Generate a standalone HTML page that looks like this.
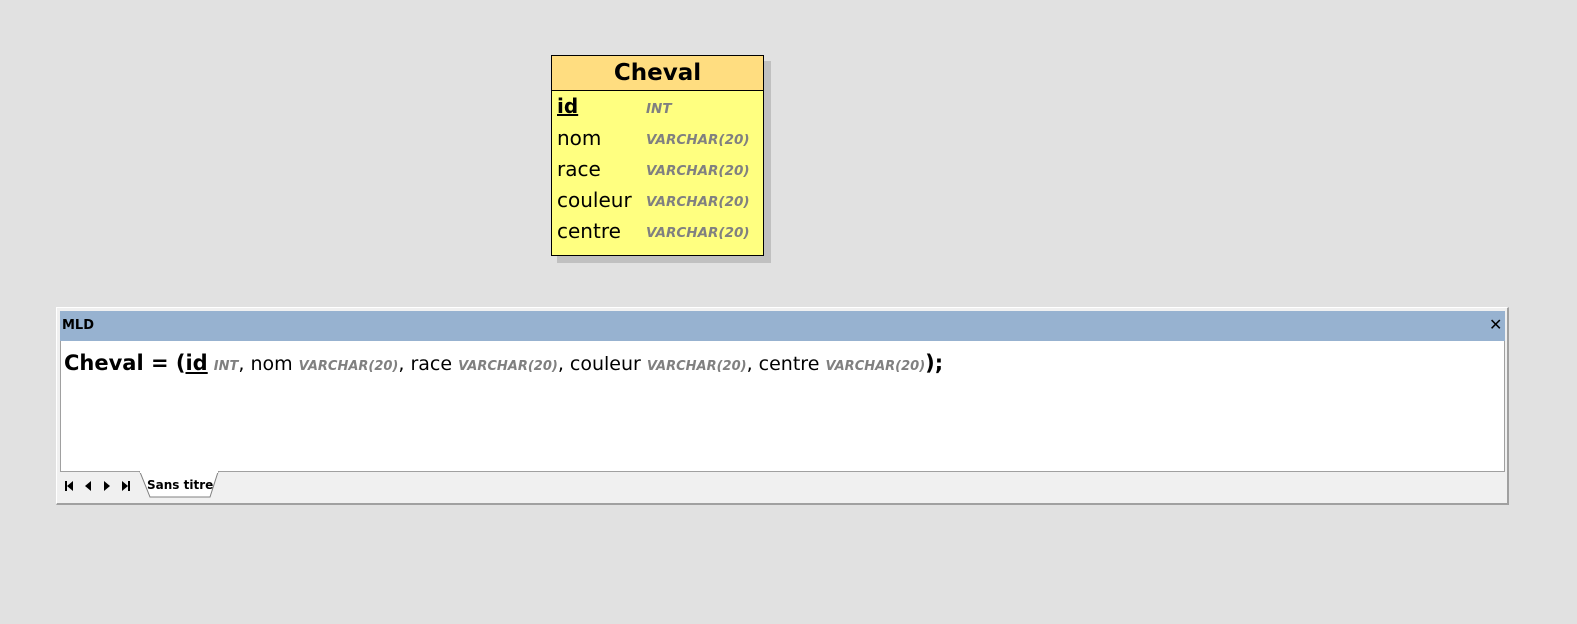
<!DOCTYPE html>
<html><head><style>
body{margin:0;width:1577px;height:624px;background:#e1e1e1;position:relative;overflow:hidden;font-family:"DejaVu Sans","Liberation Sans",sans-serif;}
.a{position:absolute;white-space:nowrap}
.t{color:#808080;font-style:italic;font-weight:bold;font-size:14px}
.f{font-size:20px;color:#000}
</style></head><body>
<div class="a" style="left:557px;top:61px;width:214px;height:202px;background:#c0c0c0"></div>
<div class="a" style="left:551px;top:55px;width:211px;height:199px;border:1px solid #000;background:#ffff80"></div>
<div class="a" style="left:552px;top:56px;width:211px;height:34px;background:#ffdd80;border-bottom:1px solid #000;text-align:center;font-weight:bold;font-size:23px;line-height:34px">Cheval</div>
<div class="a f" style="left:557px;top:94px;font-weight:bold;text-decoration:underline">id</div>
<div class="a f" style="left:557px;top:126px">nom</div>
<div class="a f" style="left:557px;top:157px">race</div>
<div class="a f" style="left:557px;top:188px">couleur</div>
<div class="a f" style="left:557px;top:219px">centre</div>
<div class="a t" style="left:646px;top:101px;font-size:13.5px">INT</div>
<div class="a t" style="left:646px;top:132px;font-size:13.5px">VARCHAR(20)</div>
<div class="a t" style="left:646px;top:163px;font-size:13.5px">VARCHAR(20)</div>
<div class="a t" style="left:646px;top:194px;font-size:13.5px">VARCHAR(20)</div>
<div class="a t" style="left:646px;top:225px;font-size:13.5px">VARCHAR(20)</div>

<div class="a" style="left:56px;top:307px;width:1450px;height:195px;background:#f0f0f0;border:1px solid #fff;border-right:2px solid #a0a0a0;border-bottom:2px solid #a0a0a0"></div>
<div class="a" style="left:60px;top:311px;width:1445px;height:30px;background:#97b2d0"></div>
<div class="a" style="left:62px;top:318px;font-weight:bold;font-size:13px">MLD</div>
<div class="a" style="left:1489px;top:315px;font-weight:bold;font-size:16px">✕</div>
<div class="a" style="left:60px;top:341px;width:1443px;height:130px;background:#fff;border:1px solid #a0a0a0;border-top:none"></div>
<div class="a" style="left:64px;top:349px;font-size:19px;line-height:28px"><b style="font-size:21px">Cheval = (<u>id</u></b> <span class="t" style="font-size:13px">INT</span>, nom <span class="t" style="font-size:13px">VARCHAR(20)</span>, race <span class="t" style="font-size:13px">VARCHAR(20)</span>, couleur <span class="t" style="font-size:13px">VARCHAR(20)</span>, centre <span class="t" style="font-size:13px">VARCHAR(20)</span><b style="font-size:21px">);</b></div>
<svg class="a" style="left:64px;top:480px" width="70" height="12">
<rect x="1" y="1" width="2" height="10"/><polygon points="9,1 9,11 3,6"/>
<polygon points="27,1 27,11 21,6"/>
<polygon points="40,1 40,11 46,6"/>
<polygon points="58,1 58,11 64,6"/><rect x="64" y="1" width="2" height="10"/>
</svg>
<svg class="a" style="left:138px;top:471px" width="90" height="30"><polygon points="2,1 80,1 72,26 12,26" fill="#fff" stroke="#808080"/><line x1="2" y1="1" x2="80" y2="1" stroke="#fff" stroke-width="2"/></svg>
<div class="a" style="left:147px;top:478px;font-weight:bold;font-size:12px">Sans titre</div>
</body></html>
